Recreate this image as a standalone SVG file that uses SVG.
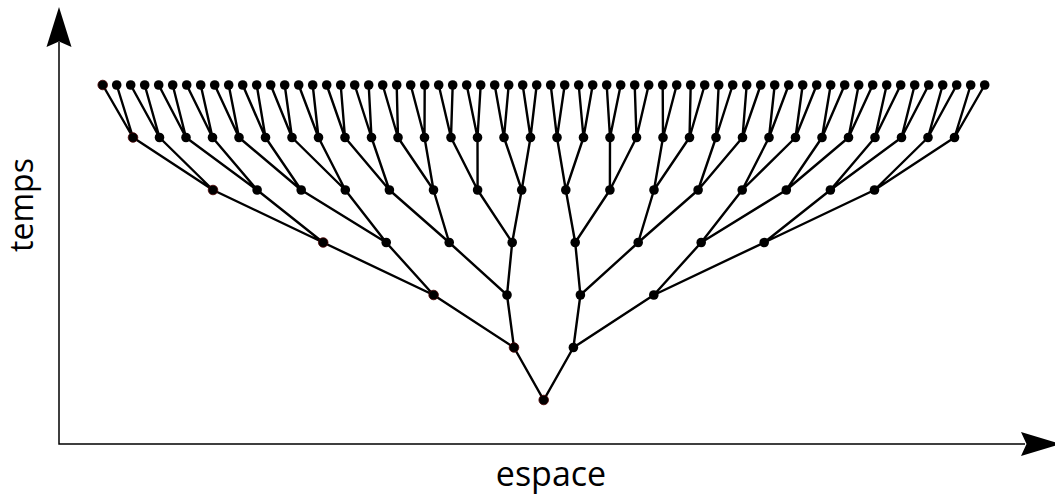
<svg xmlns="http://www.w3.org/2000/svg" width="1055" height="495" viewBox="0 0 1055 495">
<style>
.e{fill:none;stroke:#000;stroke-width:2.4;stroke-linejoin:miter}
.d{fill:#000}
.r{fill:#000;stroke:#4a0000;stroke-width:0.8}
.ax{fill:none;stroke:#000;stroke-width:1.5}
.ah{fill:#000}
.t{font-family:"Open Sans","Noto Sans",sans-serif;fill:#000}
circle{r:4.8px}
</style>
<rect width="1055" height="495" fill="#fff"/>
<g id="axes">
<path class="ax" d="M59,42 V444 H1025"/>
<polygon class="ah" points="59,7 71.5,47 59,41.5 46.5,47"/>
<polygon class="ah" points="1061,444 1021,432 1026.5,444 1021,456"/>
</g>
<text class="t" x="551" y="486" font-size="34" text-anchor="middle">espace</text>
<text class="t" font-size="32" text-anchor="middle" transform="translate(33,205) rotate(-90)">temps</text>
<g id="connectors">
<path class="e" d="M514,347.5 L543.7,400 L573.4,347.5"/>
<path class="e" d="M433.6,295 L514,347.5 L507,295"/>
<path class="e" d="M580.4,295 L573.4,347.5 L653.8,295"/>
<path class="e" d="M323.2,242.5 L433.6,295 L386.2,242.5"/>
<path class="e" d="M449.2,242.5 L507,295 L512.2,242.5"/>
<path class="e" d="M575.2,242.5 L580.4,295 L638.2,242.5"/>
<path class="e" d="M701.2,242.5 L653.8,295 L764.2,242.5"/>
<path class="e" d="M213,190 L323.2,242.5 L257.1,190"/>
<path class="e" d="M301.2,190 L386.2,242.5 L345.3,190"/>
<path class="e" d="M389.4,190 L449.2,242.5 L433.5,190"/>
<path class="e" d="M477.6,190 L512.2,242.5 L521.7,190"/>
<path class="e" d="M565.8,190 L575.2,242.5 L609.9,190"/>
<path class="e" d="M654,190 L638.2,242.5 L698.1,190"/>
<path class="e" d="M742.2,190 L701.2,242.5 L786.3,190"/>
<path class="e" d="M830.4,190 L764.2,242.5 L874.5,190"/>
<path class="e" d="M133,137.5 L213,190 L159.5,137.5"/>
<path class="e" d="M186,137.5 L257.1,190 L212.5,137.5"/>
<path class="e" d="M239,137.5 L301.2,190 L265.5,137.5"/>
<path class="e" d="M292,137.5 L345.3,190 L318.5,137.5"/>
<path class="e" d="M345,137.5 L389.4,190 L371.5,137.5"/>
<path class="e" d="M398,137.5 L433.5,190 L424.5,137.5"/>
<path class="e" d="M451,137.5 L477.6,190 L477.5,137.5"/>
<path class="e" d="M504,137.5 L521.7,190 L530.5,137.5"/>
<path class="e" d="M557,137.5 L565.8,190 L583.5,137.5"/>
<path class="e" d="M610,137.5 L609.9,190 L636.5,137.5"/>
<path class="e" d="M663,137.5 L654,190 L689.5,137.5"/>
<path class="e" d="M716,137.5 L698.1,190 L742.5,137.5"/>
<path class="e" d="M769,137.5 L742.2,190 L795.5,137.5"/>
<path class="e" d="M822,137.5 L786.3,190 L848.5,137.5"/>
<path class="e" d="M875,137.5 L830.4,190 L901.5,137.5"/>
<path class="e" d="M928,137.5 L874.5,190 L954.5,137.5"/>
<path class="e" d="M102.7,85 L133,137.5 L116.7,85"/>
<path class="e" d="M130.7,85 L159.5,137.5 L144.7,85"/>
<path class="e" d="M158.7,85 L186,137.5 L172.7,85"/>
<path class="e" d="M186.7,85 L212.5,137.5 L200.7,85"/>
<path class="e" d="M214.7,85 L239,137.5 L228.7,85"/>
<path class="e" d="M242.7,85 L265.5,137.5 L256.7,85"/>
<path class="e" d="M270.7,85 L292,137.5 L284.7,85"/>
<path class="e" d="M298.7,85 L318.5,137.5 L312.7,85"/>
<path class="e" d="M326.7,85 L345,137.5 L340.7,85"/>
<path class="e" d="M354.7,85 L371.5,137.5 L368.7,85"/>
<path class="e" d="M382.7,85 L398,137.5 L396.7,85"/>
<path class="e" d="M410.7,85 L424.5,137.5 L424.7,85"/>
<path class="e" d="M438.7,85 L451,137.5 L452.7,85"/>
<path class="e" d="M466.7,85 L477.5,137.5 L480.7,85"/>
<path class="e" d="M494.7,85 L504,137.5 L508.7,85"/>
<path class="e" d="M522.7,85 L530.5,137.5 L536.7,85"/>
<path class="e" d="M550.7,85 L557,137.5 L564.7,85"/>
<path class="e" d="M578.7,85 L583.5,137.5 L592.7,85"/>
<path class="e" d="M606.7,85 L610,137.5 L620.7,85"/>
<path class="e" d="M634.7,85 L636.5,137.5 L648.7,85"/>
<path class="e" d="M662.7,85 L663,137.5 L676.7,85"/>
<path class="e" d="M690.7,85 L689.5,137.5 L704.7,85"/>
<path class="e" d="M718.7,85 L716,137.5 L732.7,85"/>
<path class="e" d="M746.7,85 L742.5,137.5 L760.7,85"/>
<path class="e" d="M774.7,85 L769,137.5 L788.7,85"/>
<path class="e" d="M802.7,85 L795.5,137.5 L816.7,85"/>
<path class="e" d="M830.7,85 L822,137.5 L844.7,85"/>
<path class="e" d="M858.7,85 L848.5,137.5 L872.7,85"/>
<path class="e" d="M886.7,85 L875,137.5 L900.7,85"/>
<path class="e" d="M914.7,85 L901.5,137.5 L928.7,85"/>
<path class="e" d="M942.7,85 L928,137.5 L956.7,85"/>
<path class="e" d="M970.7,85 L954.5,137.5 L984.7,85"/>
</g>
<g id="n0-0"><circle class="r" cx="543.7" cy="400" r="4.8"/></g>
<g id="n1-0"><circle class="r" cx="514" cy="347.5" r="4.8"/></g>
<g id="n1-1"><circle class="d" cx="573.4" cy="347.5" r="4.8"/></g>
<g id="n2-0"><circle class="r" cx="433.6" cy="295" r="4.8"/></g>
<g id="n2-1"><circle class="d" cx="507" cy="295" r="4.8"/></g>
<g id="n2-2"><circle class="d" cx="580.4" cy="295" r="4.8"/></g>
<g id="n2-3"><circle class="d" cx="653.8" cy="295" r="4.8"/></g>
<g id="n3-0"><circle class="r" cx="323.2" cy="242.5" r="4.8"/></g>
<g id="n3-1"><circle class="d" cx="386.2" cy="242.5" r="4.8"/></g>
<g id="n3-2"><circle class="d" cx="449.2" cy="242.5" r="4.8"/></g>
<g id="n3-3"><circle class="d" cx="512.2" cy="242.5" r="4.8"/></g>
<g id="n3-4"><circle class="d" cx="575.2" cy="242.5" r="4.8"/></g>
<g id="n3-5"><circle class="d" cx="638.2" cy="242.5" r="4.8"/></g>
<g id="n3-6"><circle class="d" cx="701.2" cy="242.5" r="4.8"/></g>
<g id="n3-7"><circle class="d" cx="764.2" cy="242.5" r="4.8"/></g>
<g id="n4-0"><circle class="r" cx="213" cy="190" r="4.8"/></g>
<g id="n4-1"><circle class="d" cx="257.1" cy="190" r="4.8"/></g>
<g id="n4-2"><circle class="d" cx="301.2" cy="190" r="4.8"/></g>
<g id="n4-3"><circle class="d" cx="345.3" cy="190" r="4.8"/></g>
<g id="n4-4"><circle class="d" cx="389.4" cy="190" r="4.8"/></g>
<g id="n4-5"><circle class="d" cx="433.5" cy="190" r="4.8"/></g>
<g id="n4-6"><circle class="d" cx="477.6" cy="190" r="4.8"/></g>
<g id="n4-7"><circle class="d" cx="521.7" cy="190" r="4.8"/></g>
<g id="n4-8"><circle class="d" cx="565.8" cy="190" r="4.8"/></g>
<g id="n4-9"><circle class="d" cx="609.9" cy="190" r="4.8"/></g>
<g id="n4-10"><circle class="d" cx="654" cy="190" r="4.8"/></g>
<g id="n4-11"><circle class="d" cx="698.1" cy="190" r="4.8"/></g>
<g id="n4-12"><circle class="d" cx="742.2" cy="190" r="4.8"/></g>
<g id="n4-13"><circle class="d" cx="786.3" cy="190" r="4.8"/></g>
<g id="n4-14"><circle class="d" cx="830.4" cy="190" r="4.8"/></g>
<g id="n4-15"><circle class="d" cx="874.5" cy="190" r="4.8"/></g>
<g id="n5-0"><circle class="r" cx="133" cy="137.5" r="4.8"/></g>
<g id="n5-1"><circle class="d" cx="159.5" cy="137.5" r="4.8"/></g>
<g id="n5-2"><circle class="d" cx="186" cy="137.5" r="4.8"/></g>
<g id="n5-3"><circle class="d" cx="212.5" cy="137.5" r="4.8"/></g>
<g id="n5-4"><circle class="d" cx="239" cy="137.5" r="4.8"/></g>
<g id="n5-5"><circle class="d" cx="265.5" cy="137.5" r="4.8"/></g>
<g id="n5-6"><circle class="d" cx="292" cy="137.5" r="4.8"/></g>
<g id="n5-7"><circle class="d" cx="318.5" cy="137.5" r="4.8"/></g>
<g id="n5-8"><circle class="d" cx="345" cy="137.5" r="4.8"/></g>
<g id="n5-9"><circle class="d" cx="371.5" cy="137.5" r="4.8"/></g>
<g id="n5-10"><circle class="d" cx="398" cy="137.5" r="4.8"/></g>
<g id="n5-11"><circle class="d" cx="424.5" cy="137.5" r="4.8"/></g>
<g id="n5-12"><circle class="d" cx="451" cy="137.5" r="4.8"/></g>
<g id="n5-13"><circle class="d" cx="477.5" cy="137.5" r="4.8"/></g>
<g id="n5-14"><circle class="d" cx="504" cy="137.5" r="4.8"/></g>
<g id="n5-15"><circle class="d" cx="530.5" cy="137.5" r="4.8"/></g>
<g id="n5-16"><circle class="d" cx="557" cy="137.5" r="4.8"/></g>
<g id="n5-17"><circle class="d" cx="583.5" cy="137.5" r="4.8"/></g>
<g id="n5-18"><circle class="d" cx="610" cy="137.5" r="4.8"/></g>
<g id="n5-19"><circle class="d" cx="636.5" cy="137.5" r="4.8"/></g>
<g id="n5-20"><circle class="d" cx="663" cy="137.5" r="4.8"/></g>
<g id="n5-21"><circle class="d" cx="689.5" cy="137.5" r="4.8"/></g>
<g id="n5-22"><circle class="d" cx="716" cy="137.5" r="4.8"/></g>
<g id="n5-23"><circle class="d" cx="742.5" cy="137.5" r="4.8"/></g>
<g id="n5-24"><circle class="d" cx="769" cy="137.5" r="4.8"/></g>
<g id="n5-25"><circle class="d" cx="795.5" cy="137.5" r="4.8"/></g>
<g id="n5-26"><circle class="d" cx="822" cy="137.5" r="4.8"/></g>
<g id="n5-27"><circle class="d" cx="848.5" cy="137.5" r="4.8"/></g>
<g id="n5-28"><circle class="d" cx="875" cy="137.5" r="4.8"/></g>
<g id="n5-29"><circle class="d" cx="901.5" cy="137.5" r="4.8"/></g>
<g id="n5-30"><circle class="d" cx="928" cy="137.5" r="4.8"/></g>
<g id="n5-31"><circle class="d" cx="954.5" cy="137.5" r="4.8"/></g>
<g id="n6-0"><circle class="r" cx="102.7" cy="85" r="4.8"/></g>
<g id="n6-1"><circle class="d" cx="116.7" cy="85" r="4.8"/></g>
<g id="n6-2"><circle class="d" cx="130.7" cy="85" r="4.8"/></g>
<g id="n6-3"><circle class="d" cx="144.7" cy="85" r="4.8"/></g>
<g id="n6-4"><circle class="d" cx="158.7" cy="85" r="4.8"/></g>
<g id="n6-5"><circle class="d" cx="172.7" cy="85" r="4.8"/></g>
<g id="n6-6"><circle class="d" cx="186.7" cy="85" r="4.8"/></g>
<g id="n6-7"><circle class="d" cx="200.7" cy="85" r="4.8"/></g>
<g id="n6-8"><circle class="d" cx="214.7" cy="85" r="4.8"/></g>
<g id="n6-9"><circle class="d" cx="228.7" cy="85" r="4.8"/></g>
<g id="n6-10"><circle class="d" cx="242.7" cy="85" r="4.8"/></g>
<g id="n6-11"><circle class="d" cx="256.7" cy="85" r="4.8"/></g>
<g id="n6-12"><circle class="d" cx="270.7" cy="85" r="4.8"/></g>
<g id="n6-13"><circle class="d" cx="284.7" cy="85" r="4.8"/></g>
<g id="n6-14"><circle class="d" cx="298.7" cy="85" r="4.8"/></g>
<g id="n6-15"><circle class="d" cx="312.7" cy="85" r="4.8"/></g>
<g id="n6-16"><circle class="d" cx="326.7" cy="85" r="4.8"/></g>
<g id="n6-17"><circle class="d" cx="340.7" cy="85" r="4.8"/></g>
<g id="n6-18"><circle class="d" cx="354.7" cy="85" r="4.8"/></g>
<g id="n6-19"><circle class="d" cx="368.7" cy="85" r="4.8"/></g>
<g id="n6-20"><circle class="d" cx="382.7" cy="85" r="4.8"/></g>
<g id="n6-21"><circle class="d" cx="396.7" cy="85" r="4.8"/></g>
<g id="n6-22"><circle class="d" cx="410.7" cy="85" r="4.8"/></g>
<g id="n6-23"><circle class="d" cx="424.7" cy="85" r="4.8"/></g>
<g id="n6-24"><circle class="d" cx="438.7" cy="85" r="4.8"/></g>
<g id="n6-25"><circle class="d" cx="452.7" cy="85" r="4.8"/></g>
<g id="n6-26"><circle class="d" cx="466.7" cy="85" r="4.8"/></g>
<g id="n6-27"><circle class="d" cx="480.7" cy="85" r="4.8"/></g>
<g id="n6-28"><circle class="d" cx="494.7" cy="85" r="4.8"/></g>
<g id="n6-29"><circle class="d" cx="508.7" cy="85" r="4.8"/></g>
<g id="n6-30"><circle class="d" cx="522.7" cy="85" r="4.8"/></g>
<g id="n6-31"><circle class="d" cx="536.7" cy="85" r="4.8"/></g>
<g id="n6-32"><circle class="d" cx="550.7" cy="85" r="4.8"/></g>
<g id="n6-33"><circle class="d" cx="564.7" cy="85" r="4.8"/></g>
<g id="n6-34"><circle class="d" cx="578.7" cy="85" r="4.8"/></g>
<g id="n6-35"><circle class="d" cx="592.7" cy="85" r="4.8"/></g>
<g id="n6-36"><circle class="d" cx="606.7" cy="85" r="4.8"/></g>
<g id="n6-37"><circle class="d" cx="620.7" cy="85" r="4.8"/></g>
<g id="n6-38"><circle class="d" cx="634.7" cy="85" r="4.8"/></g>
<g id="n6-39"><circle class="d" cx="648.7" cy="85" r="4.8"/></g>
<g id="n6-40"><circle class="d" cx="662.7" cy="85" r="4.8"/></g>
<g id="n6-41"><circle class="d" cx="676.7" cy="85" r="4.8"/></g>
<g id="n6-42"><circle class="d" cx="690.7" cy="85" r="4.8"/></g>
<g id="n6-43"><circle class="d" cx="704.7" cy="85" r="4.8"/></g>
<g id="n6-44"><circle class="d" cx="718.7" cy="85" r="4.8"/></g>
<g id="n6-45"><circle class="d" cx="732.7" cy="85" r="4.8"/></g>
<g id="n6-46"><circle class="d" cx="746.7" cy="85" r="4.8"/></g>
<g id="n6-47"><circle class="d" cx="760.7" cy="85" r="4.8"/></g>
<g id="n6-48"><circle class="d" cx="774.7" cy="85" r="4.8"/></g>
<g id="n6-49"><circle class="d" cx="788.7" cy="85" r="4.8"/></g>
<g id="n6-50"><circle class="d" cx="802.7" cy="85" r="4.8"/></g>
<g id="n6-51"><circle class="d" cx="816.7" cy="85" r="4.8"/></g>
<g id="n6-52"><circle class="d" cx="830.7" cy="85" r="4.8"/></g>
<g id="n6-53"><circle class="d" cx="844.7" cy="85" r="4.8"/></g>
<g id="n6-54"><circle class="d" cx="858.7" cy="85" r="4.8"/></g>
<g id="n6-55"><circle class="d" cx="872.7" cy="85" r="4.8"/></g>
<g id="n6-56"><circle class="d" cx="886.7" cy="85" r="4.8"/></g>
<g id="n6-57"><circle class="d" cx="900.7" cy="85" r="4.8"/></g>
<g id="n6-58"><circle class="d" cx="914.7" cy="85" r="4.8"/></g>
<g id="n6-59"><circle class="d" cx="928.7" cy="85" r="4.8"/></g>
<g id="n6-60"><circle class="d" cx="942.7" cy="85" r="4.8"/></g>
<g id="n6-61"><circle class="d" cx="956.7" cy="85" r="4.8"/></g>
<g id="n6-62"><circle class="d" cx="970.7" cy="85" r="4.8"/></g>
<g id="n6-63"><circle class="d" cx="984.7" cy="85" r="4.8"/></g>
</svg>
